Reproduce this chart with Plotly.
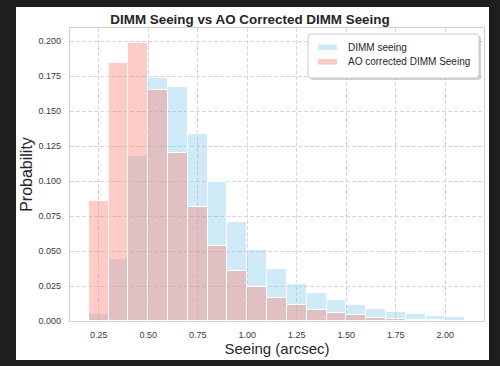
import plotly.graph_objects as go

# ---- data ----
bin_edges = [0.2, 0.3, 0.4, 0.5, 0.6, 0.7, 0.8, 0.9, 1.0, 1.1, 1.2, 1.3, 1.4,
             1.5, 1.6, 1.7, 1.8, 1.9, 2.0, 2.1]
dimm_prob = [0.005, 0.0445, 0.118, 0.1738, 0.1669, 0.1333, 0.0993, 0.0705,
             0.0505, 0.0369, 0.0267, 0.0198, 0.015, 0.0117, 0.0086, 0.0067,
             0.005, 0.0038, 0.0029]
ao_prob = [0.086, 0.184, 0.1983, 0.165, 0.1198, 0.0812, 0.0538, 0.036, 0.024,
           0.0162, 0.0117, 0.0079, 0.0055, 0.004, 0.0024, 0.0014, 0.001,
           0.0005, 0.0003]
x_ticks = [0.25, 0.50, 0.75, 1.00, 1.25, 1.50, 1.75, 2.00]
y_ticks = [0.0, 0.025, 0.05, 0.075, 0.1, 0.125, 0.15, 0.175, 0.2]
series_names = ["DIMM seeing", "AO corrected DIMM Seeing"]

centers = [(a + b) / 2 for a, b in zip(bin_edges[:-1], bin_edges[1:])]
widths = [b - a for a, b in zip(bin_edges[:-1], bin_edges[1:])]

BLUE = "rgba(135,206,235,0.4)"
RED = "rgba(250,128,114,0.4)"
FONT = "Liberation Sans, Arial, sans-serif"

W, H = 500, 366
L, R, T, B = 70, 16, 28, 45
PW, PH = W - L - R, H - T - B

def px(xp):
    return (xp - L) / PW

def py(yp):
    return (H - B - yp) / PH

fig = go.Figure()
fig.add_trace(go.Bar(x=centers, y=dimm_prob, width=widths, name=series_names[0],
                     marker=dict(color=BLUE, line=dict(color="white", width=1)),
                     showlegend=False))
fig.add_trace(go.Bar(x=centers, y=ao_prob, width=widths, name=series_names[1],
                     marker=dict(color=RED, line=dict(color="white", width=1)),
                     showlegend=False))

shapes = []
# white figure panel on dark page
shapes.append(dict(type="rect", xref="paper", yref="paper", layer="below",
                   x0=px(16), x1=px(489), y0=py(360), y1=py(7),
                   fillcolor="white", line=dict(width=0)))

def rounded(x0, y0, x1, y1, r):
    def P(x, y):
        return f"{px(x):.5f},{py(y):.5f}"
    return (f"M{P(x0+r,y0)} L{P(x1-r,y0)} Q{P(x1,y0)} {P(x1,y0+r)} "
            f"L{P(x1,y1-r)} Q{P(x1,y1)} {P(x1-r,y1)} L{P(x0+r,y1)} "
            f"Q{P(x0,y1)} {P(x0,y1-r)} L{P(x0,y0+r)} Q{P(x0,y0)} {P(x0+r,y0)} Z")

# legend shadow + box
shapes.append(dict(type="path", xref="paper", yref="paper", layer="above",
                   path=rounded(310, 36, 481, 80, 3),
                   fillcolor="rgba(0,0,0,0.18)", line=dict(width=0)))
shapes.append(dict(type="path", xref="paper", yref="paper", layer="above",
                   path=rounded(308, 34, 479, 78, 3),
                   fillcolor="white", line=dict(color="#cccccc", width=1)))
# swatches
shapes.append(dict(type="rect", xref="paper", yref="paper", layer="above",
                   x0=px(318), x1=px(337), y0=py(50), y1=py(44.5),
                   fillcolor=BLUE, line=dict(width=0)))
shapes.append(dict(type="rect", xref="paper", yref="paper", layer="above",
                   x0=px(318), x1=px(337), y0=py(64.5), y1=py(59),
                   fillcolor=RED, line=dict(width=0)))

annotations = [
    dict(xref="paper", yref="paper", x=px(346), y=py(47.5), xanchor="left",
         yanchor="middle", showarrow=False, text=series_names[0],
         font=dict(family=FONT, size=10, color="#262626")),
    dict(xref="paper", yref="paper", x=px(346), y=py(62), xanchor="left",
         yanchor="middle", showarrow=False, text=series_names[1],
         font=dict(family=FONT, size=10, color="#262626")),
]

fig.update_layout(
    width=W, height=H,
    margin=dict(l=L, r=R, t=T, b=B, pad=0),
    paper_bgcolor="#1e1e1e",
    plot_bgcolor="white",
    barmode="overlay",
    bargap=0,
    showlegend=False,
    title=dict(text="<b>DIMM Seeing vs AO Corrected DIMM Seeing</b>",
               x=px(277), xanchor="center", y=1 - 19 / H, yanchor="middle",
               font=dict(family=FONT, size=13.4, color="#262626")),
    shapes=shapes,
    annotations=annotations,
    xaxis=dict(range=[0.105, 2.195], tickvals=x_ticks, tickformat=".2f",
               showgrid=True, gridcolor="#d6d6d6", griddash="4px,2px", gridwidth=1,
               showline=True, linecolor="#d0d0d0", linewidth=1.2, mirror=True,
               zeroline=False, ticks="", ticklabelstandoff=5,
               tickfont=dict(family=FONT, size=9, color="#3a3a3a"),
               title=dict(text="Seeing (arcsec)", standoff=3,
                          font=dict(family=FONT, size=15, color="#262626"))),
    yaxis=dict(range=[0, 0.2093], tickvals=y_ticks, tickformat=".3f",
               showgrid=True, gridcolor="#d6d6d6", griddash="4px,2px", gridwidth=1,
               showline=True, linecolor="#d0d0d0", linewidth=1.2, mirror=True,
               zeroline=False, ticks="", ticklabelstandoff=6,
               tickfont=dict(family=FONT, size=9, color="#3a3a3a"),
               title=dict(text="Probability", standoff=1,
                          font=dict(family=FONT, size=16, color="#262626"))),
)

fig.write_html("out.html",
               config={"displayModeBar": False},
               post_script="document.body.style.margin='0';"
                           "document.body.style.padding='0';"
                           "document.body.style.background='#1e1e1e';")
